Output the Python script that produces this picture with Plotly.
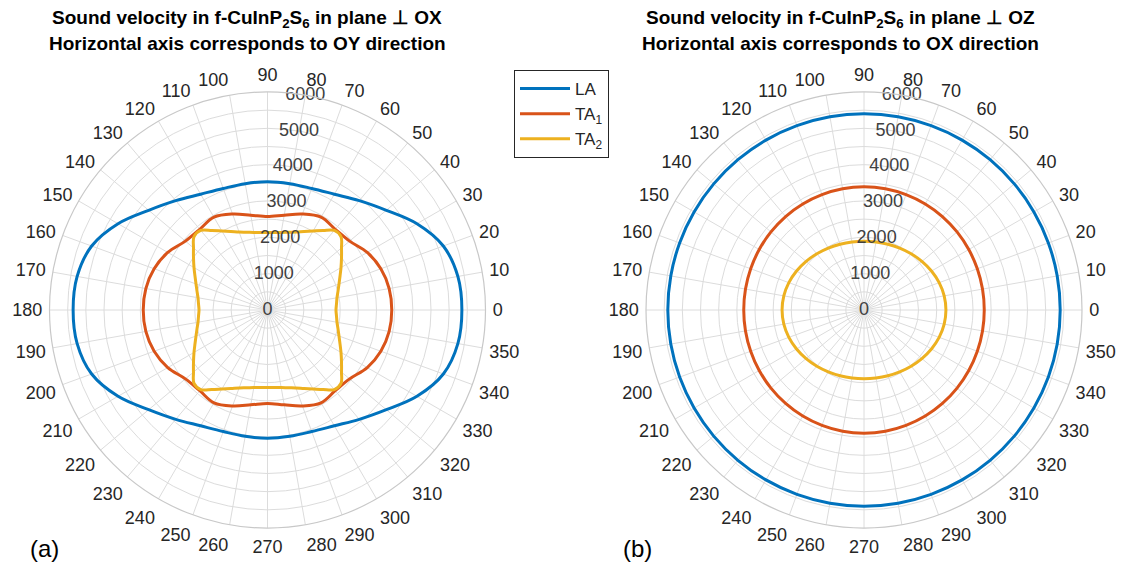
import plotly.graph_objects as go

# ---------------- data ----------------
theta10 = [0, 10, 20, 30, 40, 50, 60, 70, 80, 90, 100, 110, 120, 130, 140, 150, 160, 170,
           180, 190, 200, 210, 220, 230, 240, 250, 260, 270, 280, 290, 300, 310, 320, 330,
           340, 350, 360]
theta5 = [0, 5, 10, 15, 20, 25, 30, 35, 40, 45, 50, 55, 60, 65, 70, 75, 80, 85,
          90, 95, 100, 105, 110, 115, 120, 125, 130, 135, 140, 145, 150, 155, 160, 165, 170, 175,
          180, 185, 190, 195, 200, 205, 210, 215, 220, 225, 230, 235, 240, 245, 250, 255, 260, 265,
          270, 275, 280, 285, 290, 295, 300, 305, 310, 315, 320, 325, 330, 335, 340, 345, 350, 355,
          360]

# (a) plane perpendicular to OX
la_a = [5350, 5320, 5150, 4750, 4270, 3930, 3680, 3560, 3530, 3530, 3530, 3560, 3680, 3930,
        4270, 4750, 5150, 5320, 5350, 5320, 5150, 4750, 4270, 3930, 3680, 3560, 3530, 3530,
        3530, 3560, 3680, 3930, 4270, 4750, 5150, 5320, 5350]
ta1_a = [3420, 3400, 3320, 3170, 2950, 2900, 2950, 2810, 2650, 2570, 2650, 2810, 2950, 2900,
         2950, 3170, 3320, 3400, 3420, 3400, 3320, 3170, 2950, 2900, 2950, 2810, 2650, 2570,
         2650, 2810, 2950, 2900, 2950, 3170, 3320, 3400, 3420]
ta2_a = [1885, 1906, 1942, 2009, 2094, 2202, 2336, 2486, 2659, 2860, 2860, 2671, 2510, 2384,
         2284, 2216, 2166, 2141, 2133, 2141, 2166, 2216, 2284, 2384, 2510, 2671, 2860, 2860,
         2659, 2486, 2336, 2202, 2094, 2009, 1942, 1906, 1885, 1906, 1942, 2009, 2094, 2202,
         2336, 2486, 2659, 2860, 2860, 2671, 2510, 2384, 2284, 2216, 2166, 2141, 2133, 2141,
         2166, 2216, 2284, 2384, 2510, 2671, 2860, 2860, 2659, 2486, 2336, 2202, 2094, 2009,
         1942, 1906, 1885]

# (b) plane perpendicular to OZ
la_b = [5400, 5400, 5400, 5400, 5400, 5400, 5400, 5400, 5400, 5400, 5400, 5400, 5400, 5400,
        5400, 5400, 5400, 5400, 5400, 5400, 5400, 5400, 5400, 5400, 5400, 5400, 5400, 5400,
        5400, 5400, 5400, 5400, 5400, 5400, 5400, 5400, 5400]
ta1_b = [3310, 3312, 3319, 3330, 3343, 3357, 3370, 3380, 3388, 3390, 3388, 3380, 3370, 3357,
         3343, 3330, 3319, 3312, 3310, 3312, 3319, 3330, 3343, 3357, 3370, 3380, 3388, 3390,
         3388, 3380, 3370, 3357, 3343, 3330, 3319, 3312, 3310]
ta2_b = [2255, 2241, 2201, 2144, 2080, 2018, 1964, 1924, 1899, 1890, 1899, 1924, 1964, 2018,
         2080, 2144, 2201, 2241, 2255, 2241, 2201, 2144, 2080, 2018, 1964, 1924, 1899, 1890,
         1899, 1924, 1964, 2018, 2080, 2144, 2201, 2241, 2255]

r_ticks = [0, 1000, 2000, 3000, 4000, 5000, 6000]
r_tick_labels = ["0", "1000", "2000", "3000", "4000", "5000", "6000"]
r_grid = [0, 500, 1000, 1500, 2000, 2500, 3000, 3500, 4000, 4500, 5000, 5500, 6000]
ang_ticks = list(range(0, 360, 10))
ang_labels = [str(a) for a in ang_ticks]

names = ["LA", "TA<sub>1</sub>", "TA<sub>2</sub>"]
colors = ["#0072BD", "#D95319", "#EDB120"]

FONT = "Liberation Sans, Arial, sans-serif"
TXT = "#262626"

# page body has an 8px default margin; the figure is sized to fit the window
OFF = 8
W, H = 1125 - 2 * OFF, 570 - 2 * OFF


def px(x):
    return (x - OFF) / W


def py(y):
    return 1 - (y - OFF) / H


fig = go.Figure()

series_a = [(theta10, la_a), (theta10, ta1_a), (theta5, ta2_a)]
series_b = [(theta10, la_b), (theta10, ta1_b), (theta10, ta2_b)]

for i, (th, rr) in enumerate(series_a):
    fig.add_trace(go.Scatterpolar(r=rr, theta=th, mode="lines", name=names[i],
                                  line=dict(color=colors[i], width=3, shape="spline"),
                                  subplot="polar", showlegend=True))
for i, (th, rr) in enumerate(series_b):
    fig.add_trace(go.Scatterpolar(r=rr, theta=th, mode="lines", name=names[i],
                                  line=dict(color=colors[i], width=3, shape="spline"),
                                  subplot="polar2", showlegend=False))

for sp in ["polar", "polar2"]:
    fig.add_trace(go.Scatterpolar(r=r_ticks, theta=[80] * len(r_ticks), mode="text",
                                  text=r_tick_labels, textposition="middle center",
                                  textfont=dict(family=FONT, size=18, color="#404040"),
                                  subplot=sp, showlegend=False, hoverinfo="skip"))

polar_common = dict(
    bgcolor="white",
    radialaxis=dict(range=[0, 6000], tickvals=r_grid, showticklabels=False, ticks="",
                    showline=False, gridcolor="#dcdcdc", gridwidth=1),
    angularaxis=dict(rotation=0, direction="counterclockwise", tickvals=ang_ticks,
                     ticktext=ang_labels, ticks="outside", ticklen=3,
                     tickcolor="rgba(0,0,0,0)", showline=True, linecolor="#c8c8c8",
                     linewidth=1.2, gridcolor="#dcdcdc", gridwidth=1,
                     tickfont=dict(family=FONT, size=18, color=TXT)),
)

fig.update_layout(
    width=W, height=H,
    margin=dict(l=0, r=0, t=0, b=0),
    paper_bgcolor="white",
    font=dict(family=FONT, color=TXT),
    polar=dict(domain=dict(x=[px(49.5), px(485.5)], y=[py(528), py(92)]), **polar_common),
    polar2=dict(domain=dict(x=[px(646), px(1082)], y=[py(528), py(92)]), **polar_common),
    legend=dict(x=px(514), y=py(70), xanchor="left", yanchor="top",
                bordercolor="#262626", borderwidth=1, bgcolor="white",
                font=dict(family=FONT, size=17, color=TXT), itemwidth=50,
                tracegroupgap=8),
    showlegend=True,
)

titles = [
    (247, "Sound velocity in f-CuInP<sub>2</sub>S<sub>6</sub> in plane ⊥ OX",
     "Horizontal axis corresponds to OY direction"),
    (840, "Sound velocity in f-CuInP<sub>2</sub>S<sub>6</sub> in plane ⊥ OZ",
     "Horizontal axis corresponds to OX direction"),
]
for xc, l1, l2 in titles:
    fig.add_annotation(x=px(xc), y=py(19), xref="paper", yref="paper",
                       text="<b>" + l1 + "</b>", showarrow=False, xanchor="center",
                       yanchor="middle", font=dict(family=FONT, size=19, color="black"))
    fig.add_annotation(x=px(xc), y=py(43), xref="paper", yref="paper",
                       text="<b>" + l2 + "</b>", showarrow=False, xanchor="center",
                       yanchor="middle", font=dict(family=FONT, size=19, color="black"))

for xc, lab in [(44, "(a)"), (637, "(b)")]:
    fig.add_annotation(x=px(xc), y=py(548), xref="paper", yref="paper",
                       text=lab, showarrow=False, xanchor="center", yanchor="middle",
                       font=dict(family=FONT, size=24, color="black"))

fig.write_html("out.html")
